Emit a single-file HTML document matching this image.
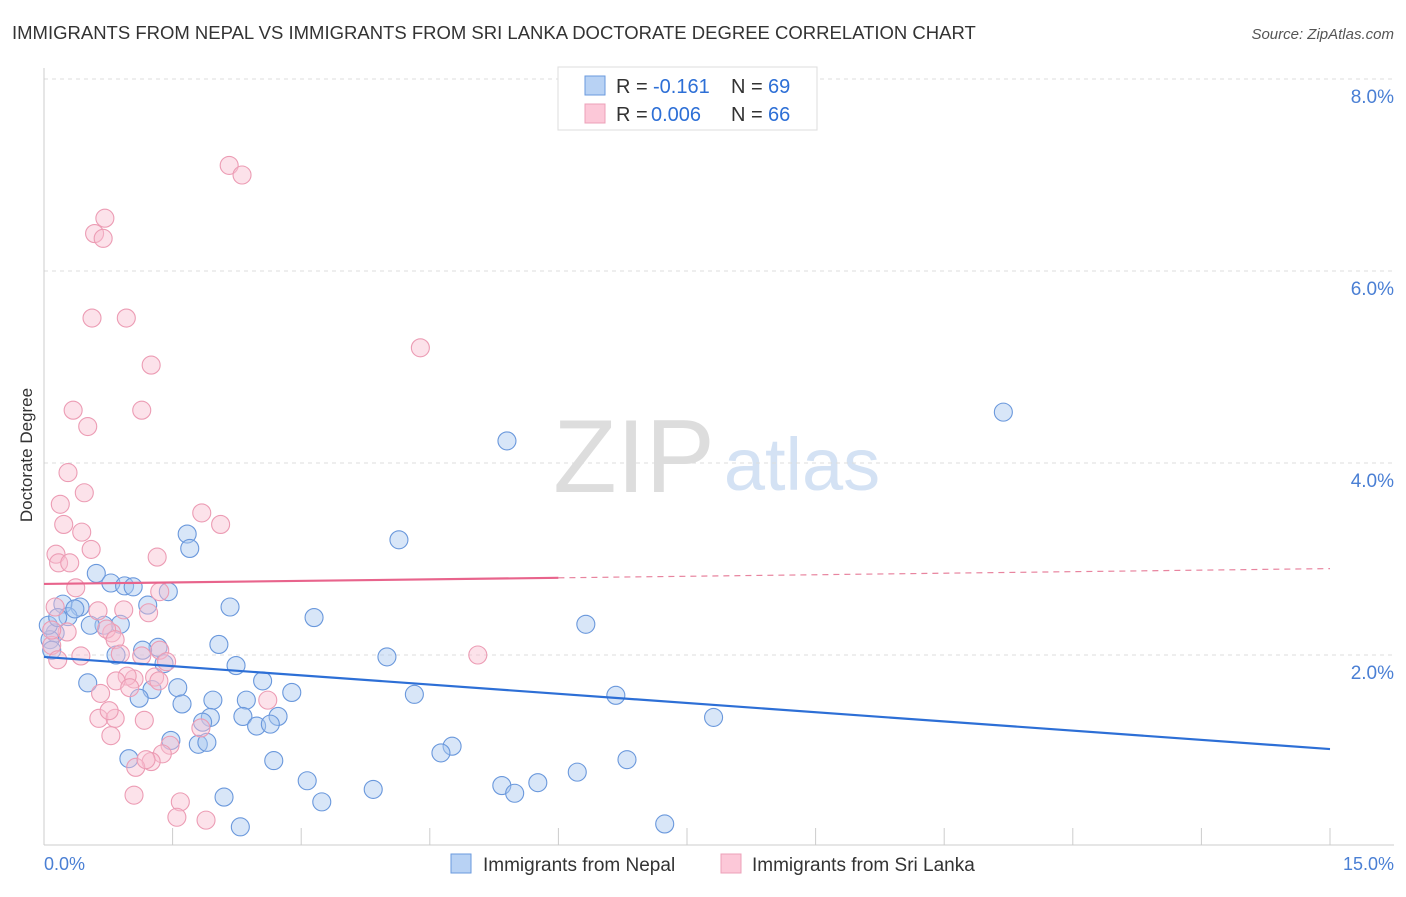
<!DOCTYPE html>
<html><head><meta charset="utf-8"><style>
body{margin:0;background:#fff;font-family:"Liberation Sans",sans-serif;}
svg text{font-family:"Liberation Sans",sans-serif;}
</style></head><body>
<svg width="1406" height="892" viewBox="0 0 1406 892">
<text x="12" y="39" font-size="18.5" fill="#333">IMMIGRANTS FROM NEPAL VS IMMIGRANTS FROM SRI LANKA DOCTORATE DEGREE CORRELATION CHART</text>
<text x="1394" y="39" font-size="15" fill="#555" font-style="italic" text-anchor="end">Source: ZipAtlas.com</text>
<g>
<text x="634" y="492" font-size="104" fill="#ddd" font-family="Liberation Serif" text-anchor="middle">ZIP</text>
<text x="802" y="490" font-size="74" fill="#d4e2f4" text-anchor="middle">atlas</text>
</g>
<g id="grid"></g>
<line x1="44" y1="68" x2="44" y2="845" stroke="#ccc"/>
<line x1="44" y1="845" x2="1394" y2="845" stroke="#ccc"/>
<g id="ticks"></g>
<text x="32" y="455" font-size="17" fill="#333" text-anchor="middle" transform="rotate(-90 32 455)">Doctorate Degree</text>
<text x="44" y="870" font-size="18" fill="#4a7fd4">0.0%</text>
<text x="1394" y="870" font-size="18" fill="#4a7fd4" text-anchor="end">15.0%</text>
<g id="pts"></g>
<g id="lines"></g>
<g>
<rect x="558" y="67" width="259" height="63" fill="#fff" stroke="#ddd"/>
<rect x="585" y="76" width="20" height="19" fill="#b8d2f4" stroke="#6a9ade"/>
<rect x="585" y="104" width="20" height="19" fill="#fcc8d8" stroke="#eca0b8"/>
<text x="616" y="93" font-size="20" fill="#333">R = <tspan x="653" fill="#2d6fd6">-0.161</tspan><tspan x="731">N = </tspan><tspan x="768" fill="#2d6fd6">69</tspan></text>
<text x="616" y="121" font-size="20" fill="#333">R = <tspan x="651" fill="#2d6fd6">0.006</tspan><tspan x="731">N = </tspan><tspan x="768" fill="#2d6fd6">66</tspan></text>
</g>
<g>
<rect x="451" y="854" width="20" height="19" fill="#b8d2f4" stroke="#6a9ade"/>
<text x="483" y="871" font-size="19" fill="#333">Immigrants from Nepal</text>
<rect x="721" y="854" width="20" height="19" fill="#fcc8d8" stroke="#eca0b8"/>
<text x="752" y="871" font-size="19" fill="#333">Immigrants from Sri Lanka</text>
</g>
</svg>
<script>
const yTicks=[2,4,6,8];
const yTickLabels=["2.0%","4.0%","6.0%","8.0%"];
const xTicks=[0,1.5,3,4.5,6,7.5,9,10.5,12,13.5,15];
const nepalX=[11.19,5.40,4.14,1.67,1.70,0.61,0.78,0.94,1.04,1.45,2.17,1.21,0.42,0.22,0.28,0.36,3.15,6.32,0.89,0.70,0.54,0.13,2.04,1.33,1.15,0.84,4.00,1.40,2.24,2.55,0.51,1.26,1.56,2.89,4.32,6.67,1.11,1.97,1.61,2.36,7.81,1.94,2.32,2.73,1.85,2.48,2.64,1.48,4.76,1.80,1.90,4.63,6.80,0.99,2.68,6.22,3.07,5.76,5.34,5.49,3.84,3.24,2.10,7.24,2.29,0.07,0.09,0.05,0.16];
const nepalY=[4.53,4.23,3.20,3.26,3.11,2.85,2.75,2.72,2.71,2.66,2.50,2.52,2.50,2.53,2.40,2.48,2.39,2.32,2.32,2.31,2.31,2.23,2.11,2.08,2.05,2.00,1.98,1.91,1.89,1.73,1.71,1.64,1.66,1.61,1.59,1.58,1.55,1.53,1.49,1.53,1.35,1.35,1.36,1.36,1.30,1.26,1.28,1.11,1.05,1.07,1.09,0.98,0.91,0.92,0.90,0.78,0.69,0.67,0.64,0.56,0.60,0.47,0.52,0.24,0.21,2.16,2.05,2.31,2.39];
const lankaX=[2.16,2.31,0.71,0.59,0.69,0.56,0.96,1.25,4.39,0.34,1.14,0.51,0.28,0.47,0.19,1.84,2.06,0.23,0.44,0.55,1.32,0.14,0.17,0.30,0.37,1.35,1.22,0.93,0.63,0.27,0.79,0.73,0.83,0.13,0.09,0.43,0.89,1.14,1.35,1.43,5.06,0.16,1.05,0.97,0.84,1.29,1.34,0.66,1.00,2.61,0.64,0.83,0.76,1.17,0.78,1.83,1.47,1.38,1.25,1.07,1.19,1.05,1.59,1.55,1.89,0.09];
const lankaY=[7.10,7.00,6.55,6.39,6.34,5.51,5.51,5.02,5.20,4.55,4.55,4.38,3.90,3.69,3.57,3.48,3.36,3.36,3.28,3.10,3.02,3.05,2.96,2.96,2.70,2.66,2.44,2.47,2.46,2.24,2.23,2.27,2.16,2.50,2.10,1.99,2.01,1.99,2.05,1.93,2.00,1.95,1.75,1.78,1.73,1.77,1.73,1.60,1.66,1.53,1.34,1.34,1.42,1.32,1.16,1.24,1.06,0.97,0.89,0.83,0.91,0.54,0.47,0.31,0.28,2.26];
const nepalTrend=[1.98,1.02];
const lankaTrend=[2.74,2.90];
const X=v=>44+v/15*1286, Y=v=>847-v*96;
const NS="http://www.w3.org/2000/svg";
function mk(t,a,p){const e=document.createElementNS(NS,t);for(const k in a)e.setAttribute(k,a[k]);p.appendChild(e);return e;}
const grid=document.getElementById('grid'),ticks=document.getElementById('ticks'),pts=document.getElementById('pts'),lines=document.getElementById('lines');
yTicks.forEach((v,i)=>{
 const l=mk('line',{x1:44,x2:1394,y1:Y(v),y2:Y(v),stroke:'#ddd','stroke-dasharray':'4,4'},grid);
 
 
 const t=mk('text',{x:1394,y:Y(v)+24,'font-size':19,fill:'#4a7fd4','text-anchor':'end'},ticks);
 t.textContent=yTickLabels[i];
 
 
});
xTicks.forEach(v=>{
 const l=mk('line',{x1:X(v),x2:X(v),y1:828,y2:845,stroke:'#ccc'},ticks);
 
 
});
nepalX.forEach((v,i)=>{
 const c=mk('circle',{cx:X(v),cy:Y(nepalY[i]),r:9,fill:'rgba(168,200,240,0.45)',stroke:'#6a98dc','stroke-width':1.1},pts);
 
 
});
lankaX.forEach((v,i)=>{
 const c=mk('circle',{cx:X(v),cy:Y(lankaY[i]),r:9,fill:'rgba(248,190,208,0.45)',stroke:'#ec9cb4','stroke-width':1.1},pts);
 
 
});
const bl=mk('line',{x1:X(0),y1:Y(nepalTrend[0]),x2:X(15),y2:Y(nepalTrend[1]),stroke:'#2d6fd6','stroke-width':2.2},lines);


const ly=x=>lankaTrend[0]+(lankaTrend[1]-lankaTrend[0])*x/15;
const pl=mk('line',{x1:X(0),y1:Y(ly(0)),x2:X(6),y2:Y(ly(6)),stroke:'#e8648c','stroke-width':2.2},lines);


const pd=mk('line',{x1:X(6),y1:Y(ly(6)),x2:X(15),y2:Y(ly(15)),stroke:'#e8849f','stroke-width':1.2,'stroke-dasharray':'6,5'},lines);


</script>
</body></html>
